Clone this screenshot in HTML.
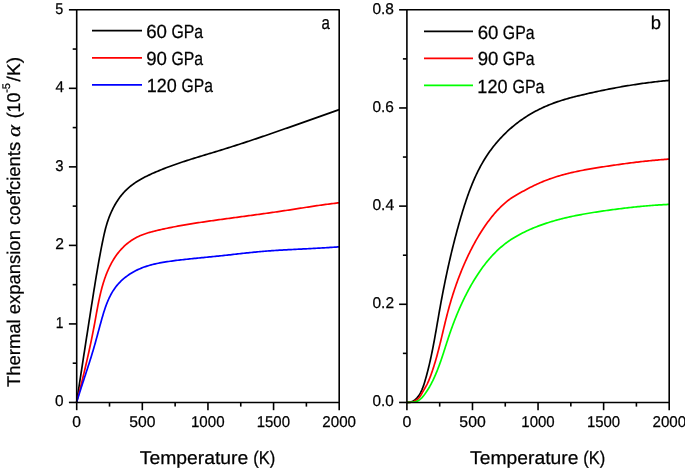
<!DOCTYPE html>
<html><head><meta charset="utf-8"><style>
html,body{margin:0;padding:0;background:#fff;}
body{width:685px;height:470px;overflow:hidden;}
svg{display:block;will-change:transform;}
text{font-family:"Liberation Sans",sans-serif;fill:#000;stroke:#000;stroke-width:0.25px;text-rendering:geometricPrecision;}
.tk{font-size:15.6px;}
.ti{font-size:18.4px;}
.lg{font-size:19px;}
.pl{font-size:18.6px;}
.sup{font-size:11px;}
</style></head><body>
<svg width="685" height="470" viewBox="0 0 685 470">
<path d="M76.60 402.40 L76.83 400.91 L77.05 399.43 L77.28 397.94 L77.51 396.46 L77.73 394.98 L77.96 393.49 L78.19 392.01 L78.42 390.52 L78.64 389.04 L78.87 387.56 L79.10 386.07 L79.32 384.59 L79.55 383.11 L79.78 381.63 L80.00 380.14 L80.23 378.66 L80.46 377.18 L80.69 375.70 L80.91 374.22 L81.14 372.74 L81.37 371.25 L81.59 369.77 L81.82 368.29 L82.05 366.81 L82.28 365.33 L82.50 363.85 L82.73 362.37 L82.96 360.89 L83.19 359.41 L83.41 357.93 L83.64 356.45 L83.87 354.97 L84.10 353.49 L84.33 352.01 L84.55 350.53 L84.78 349.06 L85.01 347.58 L85.24 346.10 L85.47 344.62 L85.69 343.14 L85.92 341.66 L86.15 340.19 L86.38 338.71 L86.61 337.23 L86.84 335.75 L87.07 334.27 L87.30 332.80 L87.53 331.32 L87.76 329.84 L87.99 328.37 L88.22 326.89 L88.45 325.41 L88.68 323.93 L88.91 322.46 L89.14 320.98 L89.37 319.50 L89.60 318.03 L89.83 316.55 L90.06 315.07 L90.29 313.60 L90.52 312.12 L90.75 310.65 L90.98 309.17 L91.22 307.69 L91.45 306.22 L91.68 304.74 L91.91 303.26 L92.14 301.79 L92.38 300.31 L92.61 298.84 L92.84 297.36 L93.08 295.89 L93.31 294.41 L93.54 292.93 L93.78 291.46 L94.01 289.98 L94.25 288.51 L94.49 287.03 L94.73 285.56 L94.96 284.08 L95.20 282.60 L95.45 281.13 L95.69 279.65 L95.93 278.18 L96.18 276.70 L96.42 275.23 L96.67 273.75 L96.92 272.27 L97.17 270.80 L97.42 269.32 L97.68 267.85 L97.93 266.37 L98.19 264.90 L98.45 263.42 L98.71 261.94 L98.98 260.47 L99.24 258.99 L99.51 257.52 L99.78 256.04 L100.06 254.57 L100.33 253.09 L100.61 251.61 L100.89 250.14 L101.18 248.66 L101.47 247.18 L101.76 245.71 L102.05 244.23 L102.35 242.76 L102.65 241.28 L102.95 239.80 L103.26 238.33 L103.57 236.85 L103.90 235.38 L104.23 233.91 L104.57 232.44 L104.92 230.98 L105.29 229.52 L105.67 228.06 L106.06 226.61 L106.47 225.16 L106.90 223.72 L107.35 222.29 L107.82 220.87 L108.31 219.45 L108.82 218.04 L109.35 216.63 L109.91 215.24 L110.48 213.86 L111.08 212.49 L111.70 211.12 L112.34 209.77 L113.00 208.43 L113.69 207.10 L114.39 205.79 L115.13 204.49 L115.88 203.20 L116.66 201.93 L117.47 200.68 L118.29 199.44 L119.15 198.23 L120.02 197.03 L120.93 195.86 L121.85 194.71 L122.81 193.58 L123.79 192.47 L124.79 191.40 L125.83 190.35 L126.89 189.32 L127.97 188.33 L129.08 187.36 L130.22 186.42 L131.38 185.50 L132.56 184.61 L133.76 183.74 L134.98 182.90 L136.22 182.07 L137.48 181.27 L138.75 180.49 L140.04 179.73 L141.34 178.98 L142.66 178.26 L143.99 177.55 L145.33 176.85 L146.68 176.17 L148.04 175.51 L149.40 174.86 L150.78 174.22 L152.15 173.59 L153.54 172.97 L154.92 172.37 L156.31 171.77 L157.70 171.18 L159.10 170.60 L160.49 170.03 L161.89 169.46 L163.29 168.91 L164.69 168.36 L166.09 167.82 L167.49 167.28 L168.90 166.76 L170.31 166.24 L171.72 165.72 L173.13 165.21 L174.54 164.71 L175.95 164.22 L177.37 163.72 L178.78 163.24 L180.20 162.76 L181.62 162.28 L183.04 161.81 L184.46 161.34 L185.88 160.88 L187.31 160.42 L188.73 159.96 L190.16 159.51 L191.58 159.06 L193.01 158.61 L194.43 158.17 L195.86 157.73 L197.29 157.29 L198.72 156.85 L200.15 156.41 L201.58 155.98 L203.01 155.54 L204.44 155.11 L205.87 154.68 L207.30 154.25 L208.73 153.81 L210.16 153.38 L211.59 152.95 L213.02 152.52 L214.45 152.08 L215.88 151.65 L217.31 151.21 L218.74 150.78 L220.17 150.34 L221.60 149.90 L223.03 149.45 L224.46 149.01 L225.88 148.56 L227.31 148.12 L228.74 147.67 L230.16 147.21 L231.59 146.76 L233.02 146.31 L234.44 145.85 L235.87 145.39 L237.29 144.93 L238.72 144.47 L240.14 144.01 L241.56 143.54 L242.99 143.08 L244.41 142.61 L245.83 142.14 L247.26 141.67 L248.68 141.20 L250.10 140.73 L251.52 140.25 L252.94 139.78 L254.36 139.30 L255.78 138.82 L257.20 138.35 L258.62 137.87 L260.04 137.39 L261.46 136.90 L262.88 136.42 L264.30 135.94 L265.72 135.45 L267.14 134.96 L268.56 134.48 L269.97 133.99 L271.39 133.50 L272.81 133.01 L274.23 132.52 L275.64 132.03 L277.06 131.54 L278.47 131.04 L279.89 130.55 L281.31 130.06 L282.72 129.56 L284.14 129.07 L285.55 128.57 L286.97 128.08 L288.38 127.58 L289.80 127.08 L291.21 126.58 L292.62 126.08 L294.04 125.59 L295.45 125.09 L296.87 124.59 L298.28 124.09 L299.69 123.59 L301.10 123.09 L302.52 122.59 L303.93 122.09 L305.34 121.59 L306.75 121.09 L308.17 120.58 L309.58 120.08 L310.99 119.58 L312.40 119.08 L313.81 118.58 L315.22 118.08 L316.64 117.58 L318.05 117.08 L319.46 116.58 L320.87 116.08 L322.28 115.58 L323.69 115.08 L325.10 114.58 L326.51 114.08 L327.92 113.58 L329.33 113.08 L330.74 112.58 L332.15 112.08 L333.56 111.59 L334.97 111.09 L336.38 110.59 L337.79 110.10 L339.20 109.60" fill="none" stroke="#000" stroke-width="1.7" stroke-linejoin="round"/>
<path d="M76.60 402.40 L76.97 400.99 L77.34 399.57 L77.71 398.15 L78.08 396.73 L78.45 395.31 L78.81 393.88 L79.18 392.45 L79.55 391.01 L79.91 389.57 L80.28 388.13 L80.64 386.69 L81.00 385.24 L81.36 383.80 L81.72 382.35 L82.08 380.89 L82.44 379.44 L82.80 377.98 L83.15 376.52 L83.51 375.06 L83.86 373.60 L84.21 372.13 L84.56 370.66 L84.91 369.19 L85.26 367.72 L85.60 366.25 L85.94 364.78 L86.29 363.30 L86.63 361.83 L86.96 360.35 L87.30 358.87 L87.63 357.39 L87.97 355.91 L88.30 354.43 L88.62 352.95 L88.95 351.47 L89.27 349.98 L89.59 348.50 L89.91 347.02 L90.23 345.53 L90.54 344.05 L90.86 342.56 L91.17 341.08 L91.47 339.59 L91.78 338.11 L92.08 336.62 L92.38 335.14 L92.67 333.65 L92.97 332.17 L93.26 330.69 L93.54 329.20 L93.83 327.72 L94.11 326.24 L94.39 324.76 L94.66 323.28 L94.93 321.80 L95.20 320.32 L95.47 318.85 L95.74 317.37 L96.00 315.90 L96.27 314.43 L96.53 312.96 L96.80 311.49 L97.07 310.02 L97.34 308.56 L97.61 307.09 L97.89 305.63 L98.18 304.17 L98.47 302.71 L98.76 301.26 L99.06 299.80 L99.37 298.35 L99.69 296.91 L100.01 295.46 L100.35 294.02 L100.69 292.58 L101.05 291.14 L101.41 289.70 L101.79 288.27 L102.18 286.84 L102.59 285.42 L103.00 284.00 L103.44 282.58 L103.89 281.16 L104.35 279.75 L104.83 278.34 L105.33 276.94 L105.85 275.53 L106.38 274.14 L106.94 272.74 L107.51 271.36 L108.11 269.98 L108.72 268.60 L109.36 267.24 L110.02 265.89 L110.70 264.55 L111.41 263.22 L112.14 261.90 L112.89 260.60 L113.67 259.31 L114.47 258.04 L115.30 256.78 L116.15 255.55 L117.04 254.33 L117.95 253.14 L118.88 251.97 L119.85 250.82 L120.84 249.69 L121.86 248.60 L122.90 247.52 L123.97 246.48 L125.06 245.46 L126.18 244.47 L127.32 243.51 L128.48 242.59 L129.66 241.69 L130.87 240.83 L132.10 240.01 L133.35 239.22 L134.62 238.47 L135.91 237.75 L137.21 237.08 L138.54 236.44 L139.88 235.83 L141.24 235.26 L142.62 234.71 L144.00 234.19 L145.40 233.70 L146.81 233.24 L148.24 232.79 L149.67 232.37 L151.11 231.96 L152.55 231.57 L154.01 231.20 L155.46 230.84 L156.93 230.49 L158.39 230.15 L159.86 229.81 L161.33 229.48 L162.80 229.16 L164.27 228.84 L165.74 228.53 L167.22 228.22 L168.69 227.92 L170.16 227.62 L171.64 227.33 L173.12 227.04 L174.59 226.75 L176.07 226.47 L177.55 226.20 L179.03 225.93 L180.51 225.66 L181.99 225.39 L183.47 225.13 L184.95 224.88 L186.44 224.62 L187.92 224.37 L189.40 224.13 L190.89 223.88 L192.37 223.64 L193.86 223.40 L195.34 223.17 L196.83 222.94 L198.31 222.71 L199.80 222.48 L201.28 222.26 L202.77 222.04 L204.26 221.82 L205.74 221.60 L207.23 221.38 L208.72 221.17 L210.20 220.96 L211.69 220.75 L213.18 220.54 L214.67 220.33 L216.15 220.12 L217.64 219.92 L219.13 219.71 L220.61 219.51 L222.10 219.31 L223.58 219.10 L225.07 218.90 L226.56 218.70 L228.04 218.50 L229.53 218.30 L231.01 218.10 L232.49 217.90 L233.98 217.70 L235.46 217.51 L236.94 217.31 L238.43 217.11 L239.91 216.91 L241.39 216.71 L242.87 216.51 L244.36 216.31 L245.84 216.11 L247.32 215.91 L248.80 215.71 L250.28 215.51 L251.76 215.31 L253.24 215.11 L254.72 214.91 L256.20 214.70 L257.68 214.50 L259.16 214.30 L260.64 214.09 L262.12 213.89 L263.60 213.68 L265.08 213.48 L266.56 213.27 L268.04 213.06 L269.52 212.85 L271.00 212.64 L272.48 212.43 L273.96 212.22 L275.44 212.01 L276.92 211.80 L278.40 211.58 L279.88 211.36 L281.36 211.15 L282.84 210.93 L284.32 210.71 L285.80 210.49 L287.27 210.26 L288.75 210.04 L290.23 209.81 L291.71 209.59 L293.19 209.36 L294.67 209.13 L296.16 208.90 L297.64 208.67 L299.12 208.44 L300.60 208.20 L302.08 207.97 L303.56 207.74 L305.04 207.51 L306.52 207.28 L308.00 207.05 L309.49 206.82 L310.97 206.59 L312.45 206.37 L313.94 206.14 L315.42 205.92 L316.90 205.70 L318.39 205.48 L319.87 205.27 L321.35 205.06 L322.84 204.85 L324.32 204.64 L325.81 204.44 L327.30 204.24 L328.78 204.04 L330.27 203.85 L331.76 203.66 L333.24 203.48 L334.73 203.30 L336.22 203.13 L337.71 202.96 L339.20 202.80" fill="none" stroke="#ff0000" stroke-width="1.7" stroke-linejoin="round"/>
<path d="M76.60 402.40 L77.03 400.99 L77.45 399.58 L77.89 398.17 L78.33 396.76 L78.77 395.35 L79.21 393.93 L79.66 392.51 L80.12 391.09 L80.57 389.67 L81.03 388.25 L81.49 386.83 L81.95 385.41 L82.41 383.98 L82.88 382.55 L83.34 381.13 L83.81 379.70 L84.28 378.27 L84.75 376.84 L85.22 375.40 L85.69 373.97 L86.15 372.54 L86.62 371.10 L87.09 369.66 L87.55 368.23 L88.02 366.79 L88.48 365.35 L88.94 363.91 L89.40 362.47 L89.86 361.03 L90.31 359.58 L90.76 358.14 L91.21 356.70 L91.65 355.25 L92.10 353.81 L92.53 352.36 L92.96 350.92 L93.39 349.47 L93.82 348.03 L94.23 346.58 L94.65 345.13 L95.06 343.68 L95.46 342.23 L95.86 340.79 L96.26 339.34 L96.65 337.89 L97.05 336.44 L97.44 334.99 L97.83 333.54 L98.22 332.09 L98.61 330.64 L99.00 329.19 L99.39 327.74 L99.78 326.29 L100.18 324.84 L100.58 323.40 L100.98 321.95 L101.38 320.50 L101.79 319.05 L102.20 317.60 L102.62 316.15 L103.04 314.71 L103.48 313.27 L103.92 311.83 L104.38 310.40 L104.84 308.98 L105.33 307.56 L105.83 306.15 L106.34 304.75 L106.87 303.36 L107.43 301.98 L108.00 300.61 L108.60 299.25 L109.22 297.91 L109.86 296.58 L110.53 295.26 L111.23 293.96 L111.96 292.68 L112.72 291.42 L113.51 290.17 L114.33 288.94 L115.19 287.74 L116.08 286.55 L117.01 285.39 L117.98 284.25 L118.99 283.14 L120.03 282.05 L121.12 280.98 L122.23 279.94 L123.37 278.93 L124.55 277.95 L125.74 277.00 L126.97 276.08 L128.21 275.18 L129.47 274.32 L130.75 273.50 L132.05 272.71 L133.35 271.95 L134.67 271.23 L135.99 270.54 L137.33 269.88 L138.68 269.26 L140.03 268.67 L141.39 268.10 L142.76 267.57 L144.15 267.06 L145.53 266.58 L146.93 266.12 L148.33 265.69 L149.74 265.28 L151.16 264.89 L152.59 264.52 L154.02 264.17 L155.46 263.84 L156.90 263.53 L158.35 263.23 L159.81 262.94 L161.27 262.67 L162.73 262.41 L164.20 262.16 L165.68 261.92 L167.16 261.69 L168.64 261.47 L170.13 261.25 L171.62 261.05 L173.11 260.85 L174.61 260.65 L176.11 260.46 L177.62 260.28 L179.12 260.09 L180.63 259.92 L182.14 259.74 L183.65 259.57 L185.16 259.40 L186.68 259.24 L188.19 259.07 L189.70 258.91 L191.22 258.75 L192.74 258.59 L194.25 258.44 L195.77 258.28 L197.28 258.13 L198.79 257.98 L200.31 257.83 L201.82 257.68 L203.33 257.53 L204.83 257.38 L206.34 257.23 L207.85 257.08 L209.35 256.93 L210.86 256.78 L212.36 256.64 L213.86 256.49 L215.36 256.34 L216.86 256.19 L218.36 256.03 L219.85 255.88 L221.35 255.73 L222.85 255.57 L224.34 255.42 L225.83 255.26 L227.33 255.10 L228.82 254.94 L230.31 254.78 L231.80 254.61 L233.29 254.45 L234.78 254.28 L236.27 254.11 L237.76 253.95 L239.24 253.78 L240.73 253.61 L242.22 253.45 L243.70 253.28 L245.19 253.12 L246.67 252.96 L248.16 252.80 L249.64 252.64 L251.13 252.49 L252.61 252.33 L254.09 252.19 L255.58 252.04 L257.06 251.90 L258.54 251.76 L260.02 251.63 L261.51 251.50 L262.99 251.37 L264.47 251.25 L265.95 251.13 L267.44 251.02 L268.92 250.91 L270.40 250.80 L271.88 250.70 L273.37 250.60 L274.85 250.50 L276.33 250.40 L277.81 250.31 L279.30 250.22 L280.78 250.13 L282.27 250.04 L283.75 249.96 L285.23 249.88 L286.72 249.79 L288.21 249.71 L289.69 249.64 L291.18 249.56 L292.67 249.48 L294.15 249.40 L295.64 249.33 L297.13 249.26 L298.62 249.18 L300.11 249.11 L301.60 249.03 L303.09 248.96 L304.59 248.88 L306.08 248.81 L307.57 248.74 L309.07 248.66 L310.56 248.58 L312.06 248.51 L313.56 248.43 L315.06 248.35 L316.56 248.27 L318.06 248.19 L319.56 248.10 L321.06 248.02 L322.57 247.93 L324.07 247.84 L325.58 247.75 L327.09 247.65 L328.60 247.56 L330.11 247.46 L331.62 247.36 L333.13 247.25 L334.65 247.14 L336.16 247.03 L337.68 246.92 L339.20 246.80" fill="none" stroke="#0000ff" stroke-width="1.7" stroke-linejoin="round"/>
<path d="M406.89 402.40 L408.49 402.37 L410.00 402.19 L411.42 401.81 L412.76 401.24 L414.02 400.50 L415.19 399.62 L416.27 398.63 L417.28 397.56 L418.21 396.40 L419.07 395.18 L419.86 393.89 L420.59 392.57 L421.27 391.21 L421.90 389.83 L422.48 388.43 L423.02 387.02 L423.53 385.60 L424.01 384.17 L424.47 382.73 L424.90 381.28 L425.33 379.84 L425.74 378.39 L426.15 376.94 L426.55 375.49 L426.94 374.04 L427.32 372.59 L427.69 371.14 L428.06 369.69 L428.42 368.24 L428.78 366.78 L429.13 365.33 L429.47 363.87 L429.81 362.42 L430.14 360.96 L430.46 359.51 L430.78 358.05 L431.09 356.59 L431.40 355.13 L431.71 353.68 L432.01 352.22 L432.30 350.76 L432.59 349.30 L432.88 347.84 L433.16 346.38 L433.44 344.92 L433.72 343.46 L433.99 341.99 L434.26 340.53 L434.53 339.07 L434.79 337.61 L435.06 336.14 L435.32 334.68 L435.58 333.22 L435.84 331.75 L436.09 330.29 L436.35 328.82 L436.60 327.36 L436.86 325.89 L437.11 324.43 L437.36 322.96 L437.61 321.50 L437.87 320.03 L438.12 318.56 L438.38 317.10 L438.63 315.63 L438.89 314.16 L439.14 312.70 L439.40 311.23 L439.66 309.76 L439.92 308.30 L440.19 306.83 L440.45 305.36 L440.72 303.90 L440.99 302.43 L441.26 300.96 L441.53 299.49 L441.81 298.03 L442.08 296.56 L442.36 295.09 L442.64 293.63 L442.93 292.16 L443.21 290.69 L443.50 289.23 L443.79 287.76 L444.08 286.29 L444.38 284.83 L444.67 283.36 L444.97 281.89 L445.27 280.43 L445.57 278.96 L445.88 277.50 L446.19 276.03 L446.50 274.57 L446.81 273.10 L447.13 271.64 L447.44 270.17 L447.76 268.71 L448.08 267.25 L448.41 265.78 L448.74 264.32 L449.07 262.86 L449.40 261.40 L449.73 259.94 L450.07 258.47 L450.41 257.01 L450.76 255.55 L451.10 254.09 L451.45 252.63 L451.80 251.17 L452.16 249.72 L452.51 248.26 L452.87 246.80 L453.23 245.34 L453.60 243.89 L453.97 242.43 L454.34 240.98 L454.71 239.52 L455.09 238.07 L455.47 236.61 L455.85 235.16 L456.24 233.71 L456.63 232.26 L457.02 230.80 L457.42 229.35 L457.82 227.90 L458.22 226.46 L458.62 225.01 L459.03 223.56 L459.44 222.11 L459.86 220.67 L460.28 219.22 L460.70 217.78 L461.12 216.33 L461.55 214.89 L461.98 213.45 L462.42 212.01 L462.86 210.57 L463.30 209.13 L463.75 207.69 L464.20 206.26 L464.66 204.83 L465.13 203.40 L465.60 201.97 L466.07 200.54 L466.55 199.12 L467.04 197.70 L467.53 196.28 L468.03 194.87 L468.54 193.46 L469.06 192.05 L469.58 190.65 L470.11 189.25 L470.65 187.85 L471.20 186.46 L471.75 185.07 L472.31 183.69 L472.89 182.31 L473.47 180.94 L474.06 179.57 L474.66 178.21 L475.27 176.85 L475.90 175.50 L476.53 174.16 L477.17 172.82 L477.83 171.48 L478.49 170.15 L479.17 168.83 L479.86 167.52 L480.56 166.21 L481.27 164.91 L482.00 163.62 L482.73 162.33 L483.49 161.05 L484.25 159.78 L485.03 158.52 L485.82 157.26 L486.63 156.01 L487.45 154.78 L488.28 153.55 L489.13 152.32 L489.99 151.11 L490.87 149.91 L491.76 148.71 L492.66 147.53 L493.58 146.35 L494.51 145.18 L495.46 144.03 L496.41 142.88 L497.38 141.75 L498.37 140.62 L499.36 139.51 L500.37 138.40 L501.39 137.31 L502.42 136.23 L503.47 135.16 L504.53 134.10 L505.60 133.05 L506.68 132.01 L507.77 130.99 L508.87 129.97 L509.99 128.97 L511.12 127.99 L512.25 127.01 L513.40 126.05 L514.56 125.10 L515.73 124.16 L516.91 123.24 L518.10 122.33 L519.30 121.44 L520.51 120.56 L521.73 119.69 L522.96 118.83 L524.20 117.99 L525.45 117.17 L526.71 116.36 L527.98 115.56 L529.26 114.78 L530.54 114.02 L531.84 113.26 L533.14 112.53 L534.45 111.80 L535.77 111.09 L537.10 110.40 L538.43 109.72 L539.77 109.05 L541.12 108.40 L542.47 107.76 L543.83 107.14 L545.20 106.53 L546.57 105.93 L547.95 105.35 L549.34 104.78 L550.73 104.23 L552.13 103.69 L553.53 103.16 L554.93 102.65 L556.34 102.15 L557.76 101.66 L559.18 101.19 L560.60 100.73 L562.02 100.28 L563.45 99.84 L564.89 99.42 L566.32 99.00 L567.76 98.59 L569.21 98.19 L570.65 97.80 L572.10 97.41 L573.55 97.04 L575.00 96.66 L576.45 96.30 L577.90 95.94 L579.36 95.59 L580.81 95.24 L582.27 94.89 L583.72 94.55 L585.18 94.21 L586.64 93.87 L588.10 93.53 L589.56 93.20 L591.02 92.87 L592.47 92.55 L593.93 92.23 L595.40 91.91 L596.86 91.59 L598.32 91.28 L599.78 90.97 L601.24 90.66 L602.71 90.36 L604.17 90.06 L605.63 89.76 L607.10 89.47 L608.56 89.18 L610.03 88.89 L611.49 88.61 L612.96 88.33 L614.43 88.05 L615.90 87.77 L617.36 87.50 L618.83 87.24 L620.30 86.97 L621.77 86.71 L623.24 86.46 L624.72 86.21 L626.19 85.96 L627.66 85.71 L629.14 85.47 L630.61 85.23 L632.08 85.00 L633.56 84.77 L635.04 84.54 L636.51 84.32 L637.99 84.10 L639.47 83.88 L640.95 83.67 L642.43 83.46 L643.91 83.26 L645.39 83.06 L646.87 82.86 L648.36 82.67 L649.84 82.48 L651.32 82.29 L652.81 82.11 L654.29 81.94 L655.78 81.76 L657.27 81.60 L658.76 81.43 L660.25 81.27 L661.74 81.12 L663.23 80.96 L664.72 80.82 L666.21 80.67 L667.71 80.53 L669.20 80.40" fill="none" stroke="#000" stroke-width="1.7" stroke-linejoin="round"/>
<path d="M406.90 402.40 L408.41 402.40 L409.94 402.31 L411.44 402.10 L412.90 401.74 L414.29 401.23 L415.60 400.56 L416.83 399.76 L417.97 398.83 L419.01 397.77 L419.94 396.60 L420.78 395.34 L421.55 394.03 L422.30 392.69 L423.05 391.36 L423.80 390.05 L424.56 388.76 L425.31 387.47 L426.04 386.17 L426.74 384.85 L427.40 383.52 L428.03 382.17 L428.64 380.80 L429.22 379.42 L429.78 378.03 L430.32 376.63 L430.84 375.22 L431.35 373.81 L431.84 372.39 L432.33 370.98 L432.81 369.55 L433.27 368.13 L433.73 366.71 L434.18 365.28 L434.62 363.85 L435.05 362.42 L435.47 360.98 L435.89 359.55 L436.30 358.11 L436.70 356.67 L437.10 355.23 L437.49 353.79 L437.87 352.34 L438.25 350.90 L438.62 349.45 L438.99 348.00 L439.36 346.55 L439.72 345.10 L440.08 343.65 L440.44 342.20 L440.79 340.75 L441.14 339.29 L441.49 337.84 L441.84 336.38 L442.18 334.93 L442.53 333.47 L442.88 332.02 L443.22 330.56 L443.57 329.10 L443.92 327.64 L444.27 326.19 L444.62 324.73 L444.97 323.27 L445.32 321.82 L445.68 320.36 L446.04 318.91 L446.41 317.45 L446.77 316.00 L447.15 314.54 L447.52 313.09 L447.91 311.64 L448.29 310.19 L448.69 308.74 L449.09 307.29 L449.49 305.84 L449.90 304.39 L450.32 302.95 L450.74 301.51 L451.17 300.06 L451.61 298.62 L452.05 297.18 L452.50 295.75 L452.95 294.31 L453.41 292.88 L453.87 291.45 L454.35 290.02 L454.83 288.59 L455.31 287.17 L455.80 285.75 L456.30 284.33 L456.81 282.91 L457.32 281.49 L457.83 280.08 L458.36 278.67 L458.89 277.27 L459.43 275.86 L459.97 274.46 L460.52 273.07 L461.08 271.67 L461.64 270.28 L462.21 268.90 L462.79 267.51 L463.38 266.13 L463.97 264.76 L464.57 263.38 L465.17 262.02 L465.78 260.65 L466.40 259.29 L467.03 257.93 L467.66 256.58 L468.30 255.23 L468.95 253.89 L469.61 252.55 L470.27 251.21 L470.94 249.88 L471.62 248.56 L472.30 247.24 L472.99 245.92 L473.69 244.61 L474.40 243.30 L475.12 242.00 L475.84 240.70 L476.58 239.41 L477.32 238.12 L478.07 236.84 L478.84 235.56 L479.61 234.29 L480.39 233.02 L481.19 231.76 L481.99 230.50 L482.81 229.25 L483.63 228.00 L484.47 226.76 L485.32 225.53 L486.18 224.29 L487.06 223.07 L487.95 221.85 L488.85 220.64 L489.76 219.43 L490.69 218.23 L491.63 217.05 L492.58 215.87 L493.55 214.70 L494.53 213.55 L495.53 212.41 L496.54 211.28 L497.57 210.16 L498.61 209.06 L499.67 207.97 L500.74 206.90 L501.83 205.85 L502.94 204.82 L504.06 203.80 L505.19 202.81 L506.34 201.85 L507.51 200.91 L508.68 200.01 L509.87 199.13 L511.08 198.29 L512.29 197.48 L513.52 196.70 L514.76 195.94 L516.01 195.20 L517.27 194.47 L518.55 193.75 L519.83 193.03 L521.12 192.31 L522.42 191.59 L523.73 190.88 L525.05 190.17 L526.38 189.46 L527.71 188.75 L529.05 188.05 L530.40 187.36 L531.76 186.68 L533.12 186.00 L534.49 185.34 L535.86 184.68 L537.24 184.04 L538.62 183.41 L540.01 182.80 L541.40 182.20 L542.79 181.62 L544.19 181.05 L545.59 180.50 L547.00 179.96 L548.40 179.43 L549.82 178.92 L551.23 178.43 L552.65 177.94 L554.07 177.47 L555.50 177.01 L556.92 176.56 L558.35 176.13 L559.79 175.70 L561.22 175.29 L562.66 174.89 L564.10 174.50 L565.55 174.12 L566.99 173.74 L568.44 173.38 L569.89 173.03 L571.34 172.69 L572.80 172.35 L574.26 172.02 L575.71 171.71 L577.18 171.39 L578.64 171.09 L580.10 170.79 L581.57 170.50 L583.04 170.22 L584.51 169.94 L585.98 169.67 L587.45 169.40 L588.92 169.14 L590.40 168.88 L591.87 168.63 L593.35 168.38 L594.83 168.14 L596.30 167.90 L597.78 167.66 L599.26 167.43 L600.74 167.19 L602.22 166.96 L603.71 166.73 L605.19 166.51 L606.67 166.28 L608.15 166.06 L609.64 165.84 L611.12 165.62 L612.61 165.40 L614.09 165.18 L615.58 164.97 L617.06 164.76 L618.55 164.55 L620.03 164.34 L621.52 164.13 L623.00 163.93 L624.49 163.73 L625.98 163.53 L627.47 163.33 L628.95 163.14 L630.44 162.95 L631.93 162.76 L633.42 162.58 L634.91 162.39 L636.40 162.21 L637.89 162.04 L639.38 161.86 L640.86 161.69 L642.35 161.52 L643.85 161.36 L645.34 161.20 L646.83 161.04 L648.32 160.88 L649.81 160.73 L651.30 160.58 L652.79 160.44 L654.28 160.30 L655.77 160.16 L657.26 160.03 L658.76 159.90 L660.25 159.77 L661.74 159.65 L663.23 159.53 L664.72 159.42 L666.22 159.31 L667.71 159.20 L669.20 159.10" fill="none" stroke="#ff0000" stroke-width="1.7" stroke-linejoin="round"/>
<path d="M406.90 402.40 L408.39 402.41 L409.91 402.33 L411.43 402.20 L412.94 402.03 L414.43 401.84 L415.88 401.57 L417.26 401.15 L418.56 400.53 L419.78 399.67 L420.92 398.66 L421.99 397.56 L423.00 396.43 L423.96 395.26 L424.87 394.06 L425.75 392.84 L426.60 391.59 L427.42 390.33 L428.22 389.06 L428.99 387.76 L429.75 386.46 L430.48 385.14 L431.19 383.81 L431.88 382.47 L432.56 381.13 L433.21 379.77 L433.85 378.42 L434.47 377.06 L435.08 375.69 L435.67 374.32 L436.25 372.95 L436.82 371.58 L437.37 370.20 L437.92 368.81 L438.45 367.42 L438.97 366.03 L439.48 364.64 L439.98 363.25 L440.48 361.85 L440.97 360.45 L441.45 359.04 L441.92 357.64 L442.39 356.23 L442.86 354.82 L443.32 353.41 L443.78 351.99 L444.24 350.58 L444.69 349.16 L445.15 347.74 L445.60 346.32 L446.05 344.90 L446.51 343.48 L446.97 342.06 L447.43 340.64 L447.89 339.22 L448.36 337.80 L448.83 336.38 L449.31 334.96 L449.79 333.54 L450.28 332.12 L450.78 330.70 L451.28 329.28 L451.79 327.86 L452.31 326.44 L452.83 325.03 L453.36 323.61 L453.90 322.20 L454.44 320.79 L454.99 319.38 L455.54 317.97 L456.11 316.57 L456.67 315.16 L457.25 313.76 L457.84 312.37 L458.43 310.97 L459.03 309.58 L459.63 308.19 L460.24 306.80 L460.87 305.42 L461.49 304.04 L462.13 302.67 L462.77 301.30 L463.43 299.93 L464.08 298.57 L464.75 297.21 L465.43 295.86 L466.11 294.51 L466.80 293.16 L467.50 291.82 L468.21 290.49 L468.93 289.16 L469.65 287.83 L470.39 286.52 L471.13 285.20 L471.88 283.90 L472.64 282.59 L473.41 281.30 L474.18 280.01 L474.97 278.73 L475.76 277.45 L476.57 276.19 L477.38 274.92 L478.20 273.67 L479.04 272.42 L479.88 271.19 L480.73 269.96 L481.60 268.74 L482.47 267.53 L483.36 266.33 L484.26 265.14 L485.17 263.96 L486.09 262.79 L487.02 261.63 L487.97 260.48 L488.92 259.34 L489.89 258.22 L490.88 257.11 L491.87 256.01 L492.88 254.92 L493.90 253.85 L494.94 252.79 L495.99 251.75 L497.06 250.72 L498.14 249.70 L499.23 248.70 L500.34 247.71 L501.46 246.74 L502.60 245.79 L503.76 244.85 L504.93 243.93 L506.12 243.03 L507.32 242.14 L508.54 241.27 L509.78 240.42 L511.03 239.58 L512.30 238.77 L513.58 237.97 L514.87 237.19 L516.18 236.42 L517.49 235.67 L518.82 234.93 L520.16 234.21 L521.51 233.51 L522.86 232.82 L524.22 232.15 L525.59 231.49 L526.97 230.84 L528.35 230.21 L529.73 229.59 L531.12 228.99 L532.51 228.39 L533.90 227.82 L535.29 227.25 L536.69 226.70 L538.09 226.15 L539.50 225.63 L540.91 225.11 L542.32 224.60 L543.73 224.11 L545.15 223.62 L546.56 223.15 L547.98 222.69 L549.41 222.24 L550.83 221.80 L552.26 221.37 L553.69 220.95 L555.13 220.54 L556.56 220.13 L558.00 219.74 L559.44 219.36 L560.88 218.98 L562.33 218.62 L563.77 218.26 L565.22 217.91 L566.67 217.57 L568.12 217.23 L569.58 216.91 L571.04 216.59 L572.49 216.28 L573.95 215.97 L575.42 215.67 L576.88 215.38 L578.35 215.09 L579.81 214.81 L581.28 214.54 L582.75 214.27 L584.22 214.00 L585.70 213.74 L587.17 213.49 L588.65 213.24 L590.12 212.99 L591.60 212.75 L593.08 212.51 L594.56 212.28 L596.05 212.05 L597.53 211.82 L599.01 211.60 L600.50 211.38 L601.99 211.16 L603.47 210.95 L604.96 210.73 L606.45 210.52 L607.94 210.31 L609.43 210.11 L610.92 209.90 L612.42 209.70 L613.91 209.50 L615.40 209.30 L616.90 209.11 L618.39 208.92 L619.89 208.73 L621.38 208.54 L622.88 208.36 L624.37 208.18 L625.87 208.00 L627.37 207.83 L628.86 207.66 L630.36 207.49 L631.86 207.32 L633.35 207.16 L634.85 207.00 L636.35 206.85 L637.85 206.69 L639.34 206.55 L640.84 206.40 L642.34 206.26 L643.83 206.12 L645.33 205.99 L646.83 205.86 L648.32 205.73 L649.82 205.61 L651.31 205.49 L652.81 205.38 L654.30 205.27 L655.79 205.16 L657.29 205.06 L658.78 204.96 L660.27 204.87 L661.76 204.78 L663.25 204.69 L664.74 204.61 L666.23 204.54 L667.71 204.47 L669.20 204.40" fill="none" stroke="#00ff00" stroke-width="1.7" stroke-linejoin="round"/>
<rect x="76.7" y="9.8" width="262.50" height="392.65" fill="none" stroke="#000" stroke-width="1.6" stroke-linejoin="round"/>
<line x1="76.70" y1="402.45" x2="76.70" y2="410.2" stroke="#000" stroke-width="1.6"/>
<line x1="109.51" y1="402.45" x2="109.51" y2="406.6" stroke="#000" stroke-width="1.6"/>
<line x1="142.32" y1="402.45" x2="142.32" y2="410.2" stroke="#000" stroke-width="1.6"/>
<line x1="175.14" y1="402.45" x2="175.14" y2="406.6" stroke="#000" stroke-width="1.6"/>
<line x1="207.95" y1="402.45" x2="207.95" y2="410.2" stroke="#000" stroke-width="1.6"/>
<line x1="240.76" y1="402.45" x2="240.76" y2="406.6" stroke="#000" stroke-width="1.6"/>
<line x1="273.57" y1="402.45" x2="273.57" y2="410.2" stroke="#000" stroke-width="1.6"/>
<line x1="306.39" y1="402.45" x2="306.39" y2="406.6" stroke="#000" stroke-width="1.6"/>
<line x1="339.20" y1="402.45" x2="339.20" y2="410.2" stroke="#000" stroke-width="1.6"/>
<line x1="68.90" y1="402.45" x2="76.7" y2="402.45" stroke="#000" stroke-width="1.6"/>
<line x1="72.70" y1="363.19" x2="76.7" y2="363.19" stroke="#000" stroke-width="1.6"/>
<text x="55.12" y="406.45" class="tk" textLength="8.58" lengthAdjust="spacingAndGlyphs">0</text>
<line x1="68.90" y1="323.92" x2="76.7" y2="323.92" stroke="#000" stroke-width="1.6"/>
<line x1="72.70" y1="284.65" x2="76.7" y2="284.65" stroke="#000" stroke-width="1.6"/>
<text x="55.76" y="327.92" class="tk" textLength="7.70" lengthAdjust="spacingAndGlyphs">1</text>
<line x1="68.90" y1="245.39" x2="76.7" y2="245.39" stroke="#000" stroke-width="1.6"/>
<line x1="72.70" y1="206.12" x2="76.7" y2="206.12" stroke="#000" stroke-width="1.6"/>
<text x="55.20" y="249.39" class="tk" textLength="8.73" lengthAdjust="spacingAndGlyphs">2</text>
<line x1="68.90" y1="166.86" x2="76.7" y2="166.86" stroke="#000" stroke-width="1.6"/>
<line x1="72.70" y1="127.59" x2="76.7" y2="127.59" stroke="#000" stroke-width="1.6"/>
<text x="55.26" y="170.86" class="tk" textLength="8.28" lengthAdjust="spacingAndGlyphs">3</text>
<line x1="68.90" y1="88.33" x2="76.7" y2="88.33" stroke="#000" stroke-width="1.6"/>
<line x1="72.70" y1="49.06" x2="76.7" y2="49.06" stroke="#000" stroke-width="1.6"/>
<text x="55.44" y="92.33" class="tk" textLength="8.45" lengthAdjust="spacingAndGlyphs">4</text>
<line x1="68.90" y1="9.80" x2="76.7" y2="9.80" stroke="#000" stroke-width="1.6"/>
<text x="55.17" y="13.80" class="tk" textLength="8.01" lengthAdjust="spacingAndGlyphs">5</text>
<text x="72.29" y="427.0" class="tk" textLength="8.69" lengthAdjust="spacingAndGlyphs">0</text>
<text x="129.26" y="427.0" class="tk" textLength="26.18" lengthAdjust="spacingAndGlyphs">500</text>
<text x="190.97" y="427.0" class="tk" textLength="33.60" lengthAdjust="spacingAndGlyphs">1000</text>
<text x="256.69" y="427.0" class="tk" textLength="33.28" lengthAdjust="spacingAndGlyphs">1500</text>
<text x="322.32" y="427.0" class="tk" textLength="33.67" lengthAdjust="spacingAndGlyphs">2000</text>
<text x="139.73" y="463.8" class="ti" textLength="108.55" lengthAdjust="spacingAndGlyphs">Temperature</text>
<text x="253.13" y="463.8" class="ti" textLength="22.05" lengthAdjust="spacingAndGlyphs">(K)</text>
<rect x="406.9" y="9.8" width="262.30" height="392.65" fill="none" stroke="#000" stroke-width="1.6" stroke-linejoin="round"/>
<line x1="406.90" y1="402.45" x2="406.90" y2="410.2" stroke="#000" stroke-width="1.6"/>
<line x1="439.69" y1="402.45" x2="439.69" y2="406.6" stroke="#000" stroke-width="1.6"/>
<line x1="472.48" y1="402.45" x2="472.48" y2="410.2" stroke="#000" stroke-width="1.6"/>
<line x1="505.26" y1="402.45" x2="505.26" y2="406.6" stroke="#000" stroke-width="1.6"/>
<line x1="538.05" y1="402.45" x2="538.05" y2="410.2" stroke="#000" stroke-width="1.6"/>
<line x1="570.84" y1="402.45" x2="570.84" y2="406.6" stroke="#000" stroke-width="1.6"/>
<line x1="603.62" y1="402.45" x2="603.62" y2="410.2" stroke="#000" stroke-width="1.6"/>
<line x1="636.41" y1="402.45" x2="636.41" y2="406.6" stroke="#000" stroke-width="1.6"/>
<line x1="669.20" y1="402.45" x2="669.20" y2="410.2" stroke="#000" stroke-width="1.6"/>
<line x1="399.10" y1="402.45" x2="406.9" y2="402.45" stroke="#000" stroke-width="1.6"/>
<line x1="402.90" y1="353.37" x2="406.9" y2="353.37" stroke="#000" stroke-width="1.6"/>
<text x="372.50" y="406.45" class="tk" textLength="21.24" lengthAdjust="spacingAndGlyphs">0.0</text>
<line x1="399.10" y1="304.29" x2="406.9" y2="304.29" stroke="#000" stroke-width="1.6"/>
<line x1="402.90" y1="255.21" x2="406.9" y2="255.21" stroke="#000" stroke-width="1.6"/>
<text x="372.47" y="308.29" class="tk" textLength="21.54" lengthAdjust="spacingAndGlyphs">0.2</text>
<line x1="399.10" y1="206.12" x2="406.9" y2="206.12" stroke="#000" stroke-width="1.6"/>
<line x1="402.90" y1="157.04" x2="406.9" y2="157.04" stroke="#000" stroke-width="1.6"/>
<text x="372.46" y="210.12" class="tk" textLength="21.67" lengthAdjust="spacingAndGlyphs">0.4</text>
<line x1="399.10" y1="107.96" x2="406.9" y2="107.96" stroke="#000" stroke-width="1.6"/>
<line x1="402.90" y1="58.88" x2="406.9" y2="58.88" stroke="#000" stroke-width="1.6"/>
<text x="372.47" y="111.96" class="tk" textLength="21.46" lengthAdjust="spacingAndGlyphs">0.6</text>
<line x1="399.10" y1="9.80" x2="406.9" y2="9.80" stroke="#000" stroke-width="1.6"/>
<text x="372.46" y="13.80" class="tk" textLength="21.51" lengthAdjust="spacingAndGlyphs">0.8</text>
<text x="402.44" y="427.0" class="tk" textLength="8.88" lengthAdjust="spacingAndGlyphs">0</text>
<text x="459.38" y="427.0" class="tk" textLength="26.33" lengthAdjust="spacingAndGlyphs">500</text>
<text x="521.35" y="427.0" class="tk" textLength="33.37" lengthAdjust="spacingAndGlyphs">1000</text>
<text x="586.90" y="427.0" class="tk" textLength="33.22" lengthAdjust="spacingAndGlyphs">1500</text>
<text x="652.52" y="427.0" class="tk" textLength="33.67" lengthAdjust="spacingAndGlyphs">2000</text>
<text x="470.13" y="463.8" class="ti" textLength="108.28" lengthAdjust="spacingAndGlyphs">Temperature</text>
<text x="583.35" y="463.8" class="ti" textLength="22.01" lengthAdjust="spacingAndGlyphs">(K)</text>
<line x1="92" y1="30.7" x2="142" y2="30.7" stroke="#000" stroke-width="1.7"/>
<line x1="92" y1="57.8" x2="142" y2="57.8" stroke="#ff0000" stroke-width="1.7"/>
<line x1="92" y1="84.8" x2="142" y2="84.8" stroke="#0000ff" stroke-width="1.7"/>
<text x="146.13" y="38.0" class="lg" textLength="20.80" lengthAdjust="spacingAndGlyphs">60</text>
<text x="171.38" y="38.0" class="lg" textLength="31.65" lengthAdjust="spacingAndGlyphs">GPa</text>
<text x="146.17" y="65.0" class="lg" textLength="20.75" lengthAdjust="spacingAndGlyphs">90</text>
<text x="171.38" y="65.0" class="lg" textLength="31.65" lengthAdjust="spacingAndGlyphs">GPa</text>
<text x="146.69" y="92.0" class="lg" textLength="30.01" lengthAdjust="spacingAndGlyphs">120</text>
<text x="181.58" y="92.0" class="lg" textLength="31.35" lengthAdjust="spacingAndGlyphs">GPa</text>
<line x1="424" y1="31.4" x2="473" y2="31.4" stroke="#000" stroke-width="1.7"/>
<line x1="424" y1="58.3" x2="473" y2="58.3" stroke="#ff0000" stroke-width="1.7"/>
<line x1="424" y1="85.3" x2="473" y2="85.3" stroke="#00ff00" stroke-width="1.7"/>
<text x="477.70" y="38.5" class="lg" textLength="20.72" lengthAdjust="spacingAndGlyphs">60</text>
<text x="502.87" y="38.5" class="lg" textLength="31.61" lengthAdjust="spacingAndGlyphs">GPa</text>
<text x="477.77" y="65.3" class="lg" textLength="20.71" lengthAdjust="spacingAndGlyphs">90</text>
<text x="502.87" y="65.3" class="lg" textLength="31.61" lengthAdjust="spacingAndGlyphs">GPa</text>
<text x="477.34" y="93.0" class="lg" textLength="30.15" lengthAdjust="spacingAndGlyphs">120</text>
<text x="512.43" y="93.0" class="lg" textLength="32.05" lengthAdjust="spacingAndGlyphs">GPa</text>
<text x="321.56" y="28.8" class="pl" textLength="8.37" lengthAdjust="spacingAndGlyphs">a</text>
<text x="650.65" y="28.8" class="pl" textLength="10.24" lengthAdjust="spacingAndGlyphs">b</text>
<text transform="translate(20.1 387.07) rotate(-90)" style="font-size:18.4px" textLength="245.22" lengthAdjust="spacingAndGlyphs">Thermal expansion coefcients</text>
<text transform="translate(20.1 136.94) rotate(-90)" style="font-family:'Liberation Serif',serif;font-style:italic;font-size:19px" textLength="11.95" lengthAdjust="spacingAndGlyphs">&#945;</text>
<text transform="translate(20.1 118.32) rotate(-90)" style="font-size:18.4px" textLength="25.63" lengthAdjust="spacingAndGlyphs">(10</text>
<text transform="translate(9.8 92.83) rotate(-90)" style="font-size:11px" textLength="9.79" lengthAdjust="spacingAndGlyphs">-5</text>
<text transform="translate(20.1 81.38) rotate(-90)" style="font-size:18.4px" textLength="24.43" lengthAdjust="spacingAndGlyphs">/K)</text>
</svg>
</body></html>
